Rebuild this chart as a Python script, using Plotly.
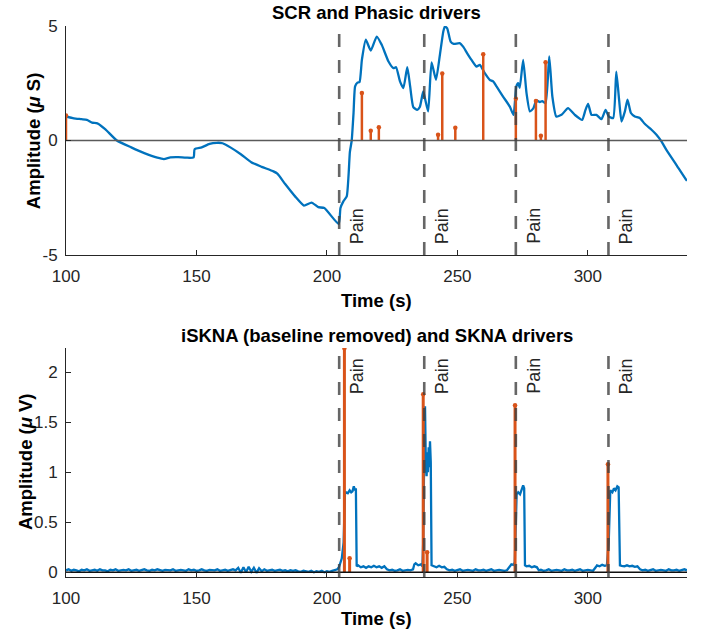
import plotly.graph_objects as go

# ---------------- data ----------------
pain_onsets = [204.7, 237.3, 272.4, 307.9]

scr_t = [100, 103, 106, 108, 110, 112, 115, 119.5, 125, 130, 135, 137.5, 140, 143, 146, 148.9,
         149.3, 152, 155, 157.8, 160, 163, 167, 171, 175, 179.5, 181, 184, 187.8, 191.2, 194.1,
         196.7, 199, 204.5, 205.2, 206.3, 207.6, 208.3, 208.8, 209.5, 210.2, 210.8, 211.7, 212.5,
         213.4, 214.9, 216.8, 219.1, 221.0, 223.6, 225.5, 226.5, 228.0, 229.3, 230.8, 231.9,
         233.1, 234.6, 235.6, 236.9, 237.7, 238.8, 240.1, 241.8, 243.3, 244.6, 245.2, 246.1,
         247.4, 248.6, 250.9, 252.2, 253.7, 255.4, 257.3, 258.6, 260.5, 262.4, 263.7, 265.0,
         267.5, 270.1, 271.5, 272.6, 273.3, 273.9, 275.2, 276.5, 277.8, 279.1, 280.3, 281.6,
         282.5, 283.8, 285.2, 286.4, 287.9, 289.9, 292.4, 295.0, 297.8, 299.1, 300.1, 301.4,
         303.3, 305.2, 306.8, 308.0, 309.7, 310.9, 312.0, 312.9, 314.2, 315.2, 316.5, 318.0,
         319.9, 321.8, 324.4, 326.3, 328.2, 330.1, 333.9, 337.7, 338]
scr_v = [1.05, 0.97, 0.93, 0.9, 0.78, 0.75, 0.5, 0.0, -0.3, -0.55, -0.75, -0.81, -0.74, -0.73,
         -0.75, -0.74, -0.38, -0.3, -0.15, -0.1, -0.12, -0.3, -0.6, -0.95, -1.15, -1.35, -1.45,
         -1.9, -2.44, -2.84, -2.71, -2.91, -2.95, -3.65, -2.95, -2.66, -2.44, -1.5, -0.5, 0.0,
         1.2, 2.36, 2.53, 2.55, 3.52, 4.40, 3.93, 4.54, 4.18, 3.45, 3.16, 3.2, 2.58, 2.29, 3.2,
         2.36, 1.46, 1.34, 1.46, 2.14, 1.78, 1.27, 3.41, 2.65, 3.74, 4.76, 4.98, 4.9, 4.32, 4.22,
         4.25, 4.1, 3.82, 3.52, 3.23, 3.3, 2.94, 2.65, 2.58, 2.36, 1.92, 1.48, 1.12, 2.36, 2.5,
         2.3, 3.52, 2.07, 1.27, 1.4, 1.75, 1.68, 1.72, 1.63, 3.67, 1.92, 1.05, 1.12, 1.41, 1.12,
         0.9, 1.34, 1.6, 1.12, 1.12, 0.93, 1.34, 1.05, 0.98, 3.01, 1.75, 0.83, 1.27, 1.78, 1.2,
         1.05, 0.98, 0.73, 0.47, 0.25, -0.04, -0.41, -1.06, -1.72, -1.76]

phasic_t = [100, 213.4, 216.8, 219.9, 242.6, 244.2, 249.2, 259.9, 272.4, 280.1, 282.0, 283.8]
phasic_v = [1.09, 2.07, 0.43, 0.58, 0.25, 2.93, 0.56, 3.77, 1.82, 1.73, 0.21, 3.42]

skna_drv_t = [206.7, 208.7, 236.9, 238.4, 272.1, 307.7]
skna_drv_v = [2.24, 0.14, 1.78, 0.20, 1.67, 1.08]

# iSKNA: quiet baseline 100..203 s (1 s steps)
isk_base_t = list(range(100, 204))
isk_base_v = [0.02, 0.03, 0.015, 0.025, 0.02, 0.01, 0.025, 0.02, 0.03, 0.015,
              0.02, 0.025, 0.015, 0.03, 0.02, 0.02, 0.01, 0.025, 0.02, 0.03,
              0.015, 0.02, 0.025, 0.02, 0.03, 0.015, 0.02, 0.025, 0.015, 0.02,
              0.03, 0.02, 0.015, 0.025, 0.02, 0.03, 0.02, 0.015, 0.025, 0.02,
              0.02, 0.03, 0.015, 0.02, 0.025, 0.02, 0.015, 0.03, 0.02, 0.025,
              0.015, 0.02, 0.03, 0.02, 0.015, 0.025, 0.02, 0.02, 0.03, 0.015,
              0.02, 0.025, 0.015, 0.02, 0.03, 0.02, 0.045, -0.005, 0.05, 0.0,
              0.055, 0.005, 0.045, -0.005, 0.04, 0.01, 0.03, 0.015, 0.02, 0.025,
              0.015, 0.02, 0.025, 0.015, 0.02, 0.01, 0.02, 0.015, 0.02, 0.01,
              0.005, 0.015, 0.01, 0.005, 0.015, 0.0, 0.01, 0.005, 0.015, 0.0,
              0.01, 0.005, 0.015, 0.02]
# iSKNA: responses and later baseline
isk_resp_t = [204.0, 204.6, 205.2, 205.7, 206.4, 206.9, 207.3, 208.0, 208.7, 209.3, 209.8, 210.3,
              210.8, 211.1, 211.4, 212, 213, 214, 215, 216, 217, 218, 219, 220, 221, 222, 223,
              224, 225, 226, 227, 228, 229, 230, 231, 232, 233, 233.5, 234, 235, 236, 236.6,
              236.9, 237.3, 237.6, 237.9, 238.2, 238.5, 238.7, 239.0, 239.2, 239.5, 239.8,
              240.1, 241, 242, 243, 244, 245, 246, 247, 248, 249, 250, 251, 252, 253, 254, 255,
              256, 257, 258, 259, 260, 261, 262, 263, 264, 265, 266, 267, 268, 269, 270, 270.7,
              271.5, 272.0, 272.7, 273.3, 274.0, 274.6, 275.2, 275.6, 275.9, 276.5, 277.5,
              278.5, 279.5, 280.5, 281.2, 282, 283, 284, 285, 286, 287, 288, 289, 290, 291, 292,
              293, 294, 295, 296, 297, 298, 299, 300, 301, 302, 303, 303.5, 304.5, 305.5, 306.5,
              307.3, 308.0, 308.6, 309.4, 310.0, 310.6, 311.3, 311.8, 312.3, 313, 314, 315, 316,
              317, 318, 319, 320, 321, 322, 323, 324, 325, 326, 327, 328, 329, 330, 331, 332,
              333, 334, 335, 336, 337, 338]
isk_resp_v = [0.03, 0.05, 0.1, 0.14, 0.3, 0.78, 0.8, 0.79, 0.82, 0.8, 0.81, 0.86,
              0.82, 0.84, 0.06, 0.07, 0.05, 0.06, 0.045, 0.06, 0.05, 0.065, 0.05, 0.06, 0.045,
              0.06, 0.03, 0.02, 0.025, 0.015, 0.02, 0.03, 0.015, 0.02, 0.025, 0.02, 0.03, 0.08,
              0.09, 0.07, 0.08, 0.06, 0.3, 1.2, 1.66, 1.1, 0.96, 1.2, 1.0, 1.25, 1.05, 1.31, 1.1,
              0.07, 0.06, 0.05, 0.065, 0.05, 0.055, 0.03, 0.02, 0.025, 0.015, 0.02, 0.03, 0.015,
              0.02, 0.025, 0.02, 0.015, 0.03, 0.02, 0.02, 0.025, 0.015, 0.02, 0.03, 0.015, 0.02,
              0.025, 0.02, 0.015, 0.02, 0.05, 0.08, 0.075, 0.1, 0.78, 0.8, 0.78, 0.82, 0.87,
              0.84, 0.07, 0.06, 0.065, 0.05, 0.06, 0.05, 0.02, 0.025, 0.015, 0.02, 0.03, 0.015,
              0.02, 0.025, 0.02, 0.015, 0.03, 0.02, 0.02, 0.025, 0.015, 0.02, 0.03, 0.015, 0.02,
              0.025, 0.02, 0.015, 0.05, 0.07, 0.06, 0.075, 0.065, 0.07, 0.3, 0.82, 0.8, 0.84,
              0.82, 0.86, 0.85, 0.07, 0.065, 0.06, 0.07, 0.06, 0.065, 0.055, 0.06, 0.03, 0.02,
              0.025, 0.015, 0.02, 0.03, 0.015, 0.02, 0.025, 0.02, 0.015, 0.03, 0.02, 0.02,
              0.025, 0.015, 0.02, 0.03, 0.02]

x_ticks = [100, 150, 200, 250, 300]
top_y_ticks = [-5, 0, 5]
top_y_labels = ["-5", "0", "5"]
bot_y_ticks = [0, 0.5, 1, 1.5, 2]
bot_y_labels = ["0", "0.5", "1", "1.5", "2"]

# ---------------- styling ----------------
BLUE = "#0072BD"
ORANGE = "#D95319"
AX = "#262626"
DASH = "rgba(64,64,64,0.8)"
FONT = "Liberation Sans, Arial, Helvetica, sans-serif"
X_RANGE = [100, 338]
TOP_RANGE = [-5, 5]
BOT_RANGE = [-0.047, 2.243]

fig = go.Figure()


def stem_xy(ts, vs):
    xs, ys = [], []
    for t, v in zip(ts, vs):
        xs += [t, t, None]
        ys += [0, v, None]
    return xs, ys


def add_panel(xa, ya, line_t, line_v, drv_t, drv_v, yr, zero_color, stem_w, shape):
    fig.add_trace(go.Scatter(x=line_t, y=line_v, mode="lines", xaxis=xa, yaxis=ya,
                             line=dict(color=BLUE, width=2.3, shape=shape, smoothing=0.5),
                             hoverinfo="skip", showlegend=False))
    sx, sy = stem_xy(drv_t, drv_v)
    fig.add_trace(go.Scatter(x=sx, y=sy, mode="lines", xaxis=xa, yaxis=ya,
                             line=dict(color=ORANGE, width=stem_w), showlegend=False,
                             hoverinfo="skip"))
    fig.add_trace(go.Scatter(x=drv_t, y=drv_v, mode="markers", xaxis=xa, yaxis=ya,
                             marker=dict(color=ORANGE, size=4.5), showlegend=False,
                             hoverinfo="skip"))
    fig.add_trace(go.Scatter(x=X_RANGE, y=[0, 0], mode="lines", xaxis=xa, yaxis=ya,
                             line=dict(color=zero_color, width=1.5), showlegend=False,
                             hoverinfo="skip"))
    for p in pain_onsets:
        fig.add_trace(go.Scatter(x=[p, p], y=[yr[0], yr[1]], mode="lines", xaxis=xa, yaxis=ya,
                                 line=dict(color=DASH, width=2.6, dash="13px,13px"),
                                 showlegend=False, hoverinfo="skip"))


add_panel("x", "y", scr_t, scr_v, phasic_t, phasic_v, TOP_RANGE, "#5a5a5a", 2.5, "spline")
add_panel("x2", "y2", isk_base_t + isk_resp_t, isk_base_v + isk_resp_v,
          skna_drv_t, skna_drv_v, BOT_RANGE, "#111111", 3, "linear")

axis_common = dict(showline=True, linecolor=AX, linewidth=1, ticks="inside", ticklen=5,
                   tickcolor=AX, tickwidth=1, showgrid=False, zeroline=False, mirror=False,
                   tickfont=dict(family=FONT, size=17, color=AX))

fig.update_layout(
    width=709, height=642,
    margin=dict(l=66, r=22, t=26, b=65),
    plot_bgcolor="white", paper_bgcolor="white",
    showlegend=False,
    xaxis=dict(range=X_RANGE, domain=[0, 1], anchor="y", tickvals=x_ticks,
               ticklabelstandoff=6, **axis_common),
    yaxis=dict(range=TOP_RANGE, domain=[0.5844, 1], anchor="x", tickvals=top_y_ticks,
               ticktext=top_y_labels, ticklabelstandoff=4, **axis_common),
    xaxis2=dict(range=X_RANGE, domain=[0, 1], anchor="y2", tickvals=x_ticks,
                ticklabelstandoff=6, **axis_common),
    yaxis2=dict(range=BOT_RANGE, domain=[0, 0.4156], anchor="x2", tickvals=bot_y_ticks,
                ticktext=bot_y_labels, ticklabelstandoff=4, **axis_common),
)

bold = dict(family=FONT, size=18.5, color="black")
ann = []
ann.append(dict(text="<b>SCR and Phasic drivers</b>", x=0.5, y=1.0245, xref="paper",
                yref="paper", xanchor="center", yanchor="middle", showarrow=False, font=bold))
ann.append(dict(text="<b>iSKNA (baseline removed) and SKNA drivers</b>", x=0.5, y=0.4392,
                xref="paper", yref="paper", xanchor="center", yanchor="middle",
                showarrow=False, font=bold))
ann.append(dict(text="<b>Time (s)</b>", x=0.5, y=0.5027, xref="paper", yref="paper",
                xanchor="center", yanchor="middle", showarrow=False, font=bold))
ann.append(dict(text="<b>Time (s)</b>", x=0.5, y=-0.0762, xref="paper", yref="paper",
                xanchor="center", yanchor="middle", showarrow=False, font=bold))
ann.append(dict(text="<b>Amplitude (<i>μ</i> S)</b>", x=-0.0531, y=0.791, xref="paper",
                yref="paper", xanchor="center", yanchor="middle", textangle=-90,
                showarrow=False, font=bold))
ann.append(dict(text="<b>Amplitude (<i>μ</i> V)</b>", x=-0.066, y=0.2087, xref="paper",
                yref="paper", xanchor="center", yanchor="middle", textangle=-90,
                showarrow=False, font=bold))
for p in pain_onsets:
    ann.append(dict(text="Pain", x=p, y=TOP_RANGE[0], xref="x", yref="y", xanchor="left",
                    yanchor="bottom", xshift=6, yshift=9, textangle=-90, showarrow=False,
                    font=dict(family=FONT, size=18, color=AX)))
    ann.append(dict(text="Pain", x=p, y=BOT_RANGE[1], xref="x2", yref="y2", xanchor="left",
                    yanchor="top", xshift=6, yshift=-8, textangle=-90, showarrow=False,
                    font=dict(family=FONT, size=18, color=AX)))
fig.update_layout(annotations=ann)

# remove the default page margin so the 709x642 figure fills the window exactly
fig.write_html("out.html", config={"displayModeBar": False},
               post_script="document.body.style.margin='0';document.body.style.overflow='hidden';")
